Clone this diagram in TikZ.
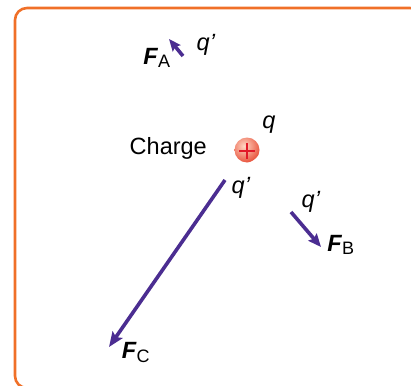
\documentclass[tikz,border=0pt]{standalone}
\usepackage{fontspec}
\setmainfont{Liberation Sans}
\usetikzlibrary{arrows.meta}
\definecolor{frameorange}{RGB}{240,112,40}
\definecolor{vecpurple}{RGB}{75,45,145}
\definecolor{plusred}{RGB}{225,25,40}
\definecolor{ballout}{RGB}{232,80,58}
\definecolor{ballin}{RGB}{255,215,195}
\begin{document}
\begin{tikzpicture}[x=1pt,y=-1pt,
  lbl/.style={font=\fontsize{23.5}{26}\selectfont, inner sep=0pt},
  vec/.style={draw=vecpurple, line width=3.6pt, -{Stealth[length=15pt,width=12pt,inset=3pt]}},
  frame/.style={draw=frameorange, line width=2.6pt, rounded corners=12pt}]
\useasboundingbox (0,0) rectangle (411,385);
\draw[frame] (15,8) rectangle (422,388);
% charge
\node[circle, minimum size=25pt, inner sep=0pt,
  path picture={\shade[inner color=ballin, outer color=ballout]
    ([shift={(-3,-4)}]path picture bounding box.center) circle (17pt);}] (charge) at (247,150) {};
\draw[plusred, line width=1.9pt] (239,151) -- (255,151) (247,143) -- (247,159);
\node[lbl, anchor=east] (chargelbl) at (207,148) {Charge};
\node[lbl] (q) at (269,125) {\textit{q}};
% FA
\coordinate (a0) at (183,56);
\coordinate (a1) at (169,39);
\draw[vec, -{Stealth[length=12pt,width=10pt,inset=2pt]}] (a0) -- (a1);
\node[lbl] (FA) at (157,58) {\textbf{\textit{F}}\textsubscript{\fontsize{18}{20}\selectfont A}};
\node[lbl] (qa) at (206,45) {\textit{q'}};
% FC
\coordinate (c0) at (225,180);
\coordinate (c1) at (109,347);
\draw[vec] (c0) -- (c1);
\node[lbl] (qc) at (241,188) {\textit{q'}};
\node[lbl] (FC) at (136,352) {\textbf{\textit{F}}\textsubscript{\fontsize{18}{20}\selectfont C}};
% FB
\coordinate (b0) at (291,212);
\coordinate (b1) at (321,247);
\draw[vec, -{Stealth[length=13pt,width=11pt,inset=2pt]}] (b0) -- (b1);
\node[lbl] (qb) at (311,202) {\textit{q'}};
\node[lbl] (FB) at (341,245) {\textbf{\textit{F}}\textsubscript{\fontsize{18}{20}\selectfont B}};
\end{tikzpicture}
\end{document}
